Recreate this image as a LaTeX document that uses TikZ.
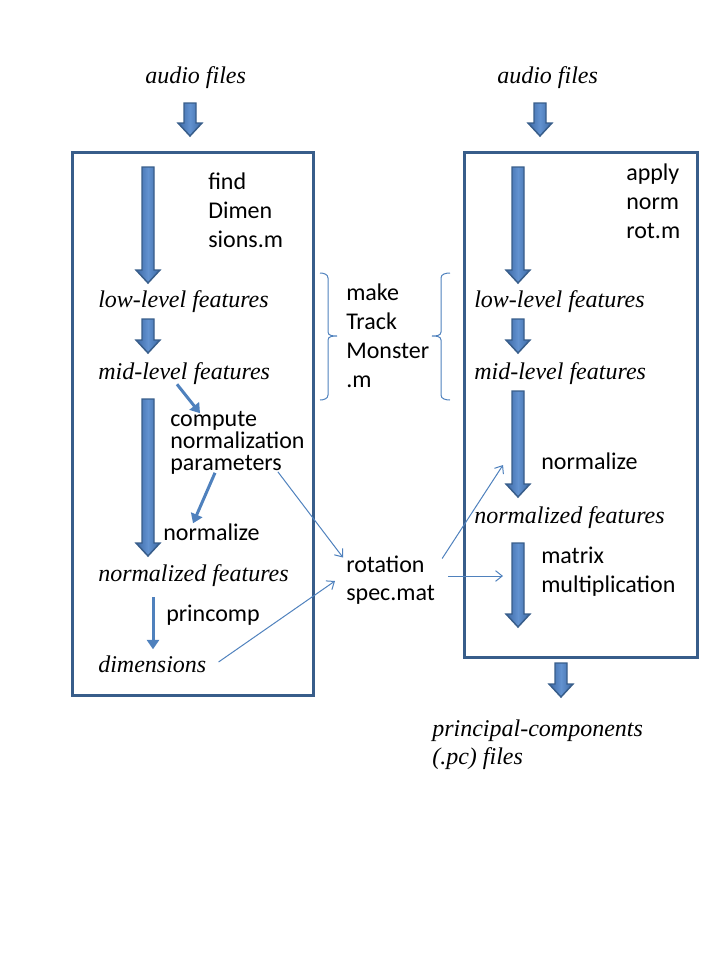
\documentclass[tikz,border=0pt]{standalone}
\usepackage{fontspec}
\setmainfont{Liberation Serif}
\setsansfont{Carlito}
\usetikzlibrary{calc}
\usetikzlibrary{arrows.meta}
\definecolor{boxblue}{RGB}{56,93,138}
\definecolor{lineblue}{RGB}{79,129,189}
\definecolor{fatdark}{RGB}{60,104,164}
\definecolor{fatlight}{RGB}{98,146,208}

\begin{document}
\begin{tikzpicture}[x=0.75pt,y=-0.75pt,
  feat/.style={anchor=west, inner sep=0, font=\itshape\fontsize{18}{21}\selectfont},
  prog/.style={anchor=west, inner sep=0, align=left, font=\sffamily\fontsize{18}{21.75}\selectfont},
  fat/.style={draw=boxblue, line width=1.1pt, left color=fatdark, right color=fatdark, middle color=fatlight},
  push/.style={draw=lineblue, line width=2.25pt, -{Triangle[length=7pt,width=9pt]}},
  link/.style={draw=lineblue, line width=0.75pt, -{Straight Barb[length=5pt,width=8pt]}},
  bracket/.style={draw=lineblue, line width=0.75pt}]
\useasboundingbox (0,0) rectangle (720,960);

\draw[boxblue, line width=2.25pt] (72,152) rectangle (313,695);
\draw[boxblue, line width=2.25pt] (464,152) rectangle (697,657);

\foreach \x/\ya/\yb in {190/103/136, 540/103/136, 148/167/283, 148/319/353, 148/399/556,
  518/167/283, 518/319/353, 518/391/497, 518/543/627, 561/663/697} {
 \draw[fat] (\x-6,\ya) -- (\x+6,\ya) -- (\x+6,\yb-13) -- (\x+12,\yb-13) -- (\x,\yb)
   -- (\x-12,\yb-13) -- (\x-6,\yb-13) -- cycle;
}

\node[feat] (audioL) at (145,78) {audio files};
\node[feat] (audioR) at (497,78) {audio files};

\node[prog] (findL) at (208,210) {find\\Dimen\\sions.m};
\node[feat] (lowL) at (98,302) {low-level features};
\node[feat] (midL) at (98,374) {mid-level features};
\node[prog, font=\sffamily\fontsize{18}{16.5}\selectfont] (comp) at (170,443) {compute\\normalization\\parameters};
\node[prog] (normL) at (163,532) {normalize};
\node[feat] (nfL) at (98,576) {normalized features};
\node[prog] (princ) at (166,615) {princomp};
\node[feat] (dims) at (98,664) {dimensions};

\node[prog] (make) at (346,336) {make\\Track\\Monster\\.m};
\node[prog, font=\sffamily\fontsize{18}{21}\selectfont] (rot) at (346,580) {rotation\\spec.mat};

\node[prog] (apply) at (626,201) {apply\\norm\\rot.m};
\node[feat] (lowR) at (474,302) {low-level features};
\node[feat] (midR) at (474,374) {mid-level features};
\node[prog] (normR) at (541,461) {normalize};
\node[feat] (nfR) at (474,518) {normalized features};
\node[prog] (mult) at (541,572) {matrix\\multiplication};
\node[feat, align=left] (pc) at (432,745) {principal-components\\(.pc) files};

\coordinate (toNorm) at (503,465);
\coordinate (toMult) at (503,576);

\draw[bracket] (320,273) to[out=0,in=90] (328,278) -- (328,332) to[out=-90,in=180] (337,336)
  to[out=180,in=90] (328,340) -- (328,395) to[out=-90,in=0] (320,400);
\draw[bracket] (450,273) to[out=180,in=90] (441,278) -- (441,332) to[out=-90,in=0] (432,336)
  to[out=0,in=90] (441,340) -- (441,395) to[out=-90,in=180] (450,400);

\draw[push] ($(midL.south west)+(79,-1)$) -- ($(comp.north west)+(30,2)$);
\draw[push] ($(comp.south west)+(45,-2)$) -- ($(normL.north west)+(30,0)$);
\draw[push] ($(nfL.south west)+(55,10)$) -- ($(dims.north west)+(55,-6)$);

\draw[link] ($(comp.south east)+(-27,-3)$) -- ($(rot.north west)+(-3,2)$);
\draw[link] ($(dims.east)+(12,-2)$) -- ($(rot.west)+(-11,1)$);
\draw[link] ($(rot.north east)+(7,3)$) -- (toNorm);
\draw[link] ($(rot.east |- toMult)+(13,0)$) -- (toMult);
\end{tikzpicture}
\end{document}
